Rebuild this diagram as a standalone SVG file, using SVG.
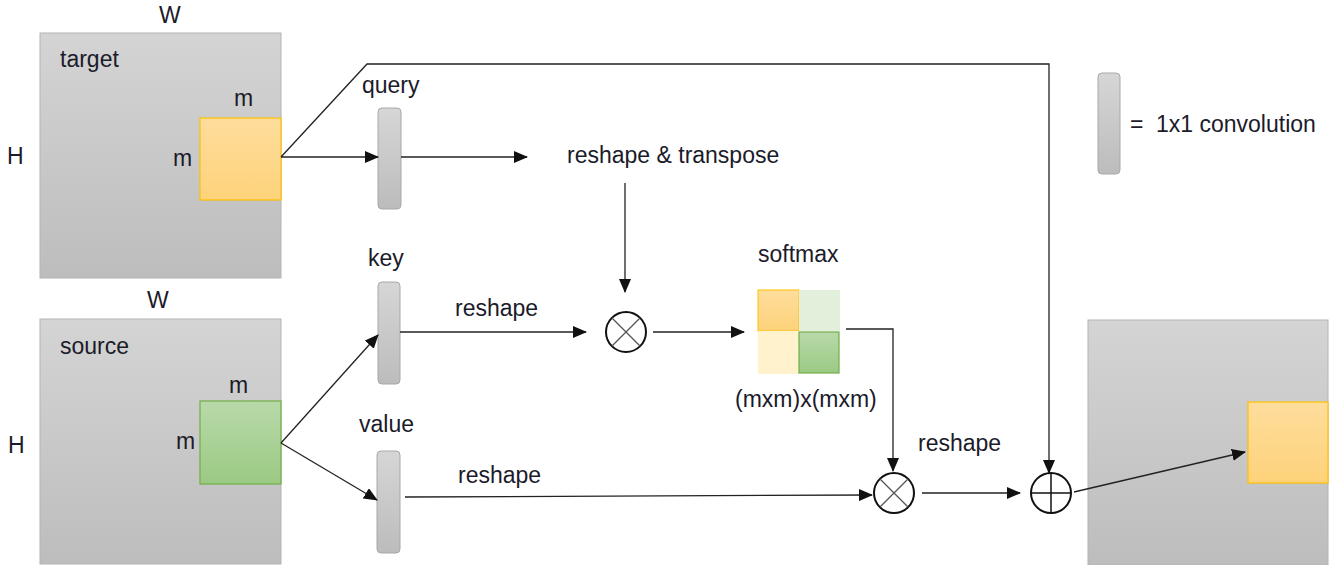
<svg xmlns="http://www.w3.org/2000/svg" width="1341" height="565" viewBox="0 0 1341 565">
<style>
text{font-family:"Liberation Sans",Arial,sans-serif;font-size:23px;fill:#1b1b2a}
.big{fill:url(#gGray);stroke:#b4b4b4;stroke-width:1}
.conv{fill:url(#gConv);stroke:#a8a8a8;stroke-width:1}
.orange{fill:url(#gOrange);stroke:#ffc000;stroke-width:1.2}
.green{fill:url(#gGreen);stroke:#70ad47;stroke-width:1.2}
.ln{fill:none;stroke:#222;stroke-width:1.3}
.arr{fill:none;stroke:#222;stroke-width:1.3;marker-end:url(#ah)}
.op{fill:#fff;stroke:#111;stroke-width:2}
.opx{stroke:#555;stroke-width:1.2}
</style>
<defs>
<linearGradient id="gGray" x1="0" y1="0" x2="0" y2="1"><stop offset="0" stop-color="#d4d4d4"/><stop offset="1" stop-color="#bdbdbd"/></linearGradient>
<linearGradient id="gConv" x1="0" y1="0" x2="0" y2="1"><stop offset="0" stop-color="#d6d6d6"/><stop offset="1" stop-color="#bcbcbc"/></linearGradient>
<linearGradient id="gOrange" x1="0" y1="0" x2="0" y2="1"><stop offset="0" stop-color="#fedd9c"/><stop offset="1" stop-color="#fdd27a"/></linearGradient>
<linearGradient id="gGreen" x1="0" y1="0" x2="0" y2="1"><stop offset="0" stop-color="#b8d9a9"/><stop offset="1" stop-color="#9bca84"/></linearGradient>
<marker id="ah" markerUnits="userSpaceOnUse" markerWidth="14" markerHeight="12" refX="13" refY="6" orient="auto"><path d="M0,0 L14,6 L0,12 Z" fill="#111"/></marker>
</defs>

<g id="target">
<rect class="big" x="40" y="33" width="241" height="245"/>
<rect class="orange" x="200" y="118" width="81" height="82"/>
<text x="159" y="23">W</text>
<text x="60" y="67">target</text>
<text x="234" y="106">m</text>
<text x="173" y="166">m</text>
<text x="7" y="164">H</text>
</g>

<g id="source">
<rect class="big" x="40" y="319" width="241" height="245"/>
<rect class="green" x="200" y="401" width="81" height="83"/>
<text x="147" y="308">W</text>
<text x="60" y="354">source</text>
<text x="229" y="393">m</text>
<text x="176" y="449">m</text>
<text x="8" y="453">H</text>
</g>

<g id="query">
<rect class="conv" x="378" y="108" width="23" height="101" rx="4"/>
<text x="362" y="93">query</text>
</g>
<g id="key">
<rect class="conv" x="378" y="282" width="22" height="102" rx="4"/>
<text x="368" y="266">key</text>
</g>
<g id="value">
<rect class="conv" x="377" y="451" width="23" height="102" rx="4"/>
<text x="359" y="432">value</text>
</g>

<g id="legend">
<rect class="conv" x="1098" y="73" width="22" height="101" rx="4"/>
<text x="1130" y="132">=</text>
<text x="1156" y="132">1x1 convolution</text>
</g>

<g id="transpose">
<text x="567" y="163">reshape &amp; transpose</text>
</g>

<g id="mul1">
<circle class="op" cx="626" cy="332" r="20"/>
<line class="opx" x1="612" y1="318" x2="640" y2="346"/>
<line class="opx" x1="640" y1="318" x2="612" y2="346"/>
</g>

<g id="softmax">
<rect x="758" y="290" width="41" height="41" fill="url(#gOrange)" stroke="#ffc000" stroke-width="1"/>
<rect x="799" y="290" width="41" height="41" fill="#e2efda"/>
<rect x="758" y="331" width="41" height="43" fill="#fff2cc"/>
<rect class="green" x="799" y="332" width="40" height="41"/>
<text x="758" y="262">softmax</text>
<text x="735" y="407">(mxm)x(mxm)</text>
</g>

<g id="mul2">
<circle class="op" cx="894" cy="493" r="20"/>
<line class="opx" x1="880" y1="479" x2="908" y2="507"/>
<line class="opx" x1="908" y1="479" x2="880" y2="507"/>
</g>

<g id="add">
<circle class="op" cx="1051" cy="493" r="20"/>
<line x1="1031" y1="493" x2="1071" y2="493" stroke="#111" stroke-width="1.5"/>
<line x1="1051" y1="473" x2="1051" y2="513" stroke="#111" stroke-width="1.5"/>
</g>

<g id="output">
<rect class="big" x="1088" y="320" width="240" height="245"/>
<rect class="orange" x="1248" y="402" width="80" height="81"/>
</g>

<g id="connectors">
<line class="arr" x1="281" y1="157" x2="378" y2="157"/>
<line class="arr" x1="401" y1="157" x2="527" y2="157"/>
<polyline class="arr" points="281,157 367,64 1049,64 1049,473"/>
<line class="arr" x1="625" y1="183" x2="625" y2="292"/>
<line class="arr" x1="400" y1="332" x2="586" y2="332"/>
<text x="455" y="316">reshape</text>
<line class="arr" x1="653" y1="332" x2="744" y2="332"/>
<polyline class="arr" points="846,329 893,329 893,471"/>
<line class="arr" x1="405" y1="497" x2="872" y2="495"/>
<text x="458" y="483">reshape</text>
<line class="arr" x1="922" y1="493" x2="1020" y2="493"/>
<text x="918" y="451">reshape</text>
<line class="arr" x1="1074" y1="492" x2="1245" y2="452"/>
<line class="arr" x1="281" y1="443" x2="378" y2="335"/>
<line class="arr" x1="281" y1="443" x2="377" y2="500"/>
</g>
</svg>
